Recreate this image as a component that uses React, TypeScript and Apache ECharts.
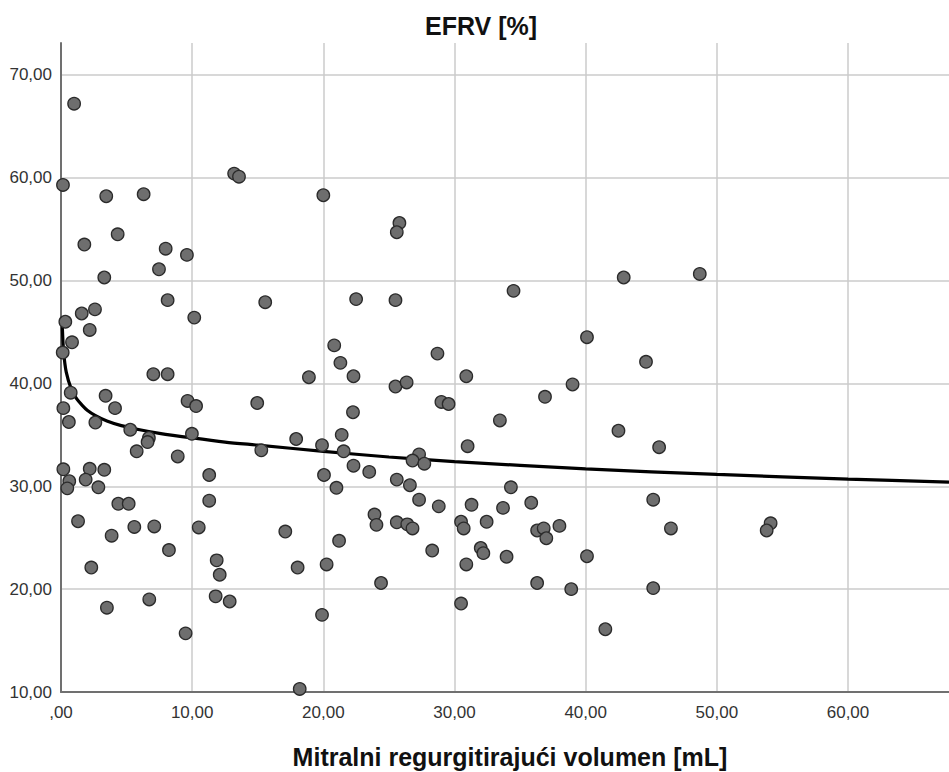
import React, { useEffect, useRef } from "react";
import * as echarts from "echarts";

const chartTitle = "EFRV [%]";
const xAxisTitle = "Mitralni regurgitirajući volumen [mL]";

const xValues = [
  0.15, 1.0, 3.45, 6.3, 13.2, 13.57, 1.78, 4.32, 7.98, 9.6, 20.0, 25.8, 25.6, 7.47, 3.3, 8.13, 15.57, 1.58, 2.59, 10.16,
  0.33, 2.19, 0.84, 0.13, 7.04, 8.13, 18.9, 0.74, 3.4, 9.65, 10.3, 14.96, 0.18, 4.12, 0.6, 2.62, 5.28, 9.98, 6.7, 6.6,
  17.93, 19.9, 5.77, 15.27, 8.9, 0.18, 2.19, 3.3, 11.3, 20.05, 0.63, 0.48, 1.88, 2.85, 4.37, 5.16, 11.3, 1.3, 3.86, 5.59,
  7.11, 10.5, 8.23, 17.1, 2.31, 11.87, 12.1, 18.04, 6.73, 3.5, 11.79, 12.86, 9.5, 18.2, 19.9, 22.5, 25.5, 34.5, 42.9, 20.83,
  21.3, 28.7, 40.1, 22.3, 30.9, 25.5, 26.35, 39.0, 36.9, 29.0, 29.55, 22.26, 33.46, 42.5, 21.4, 31.0, 21.55, 27.3, 26.8, 27.7,
  22.3, 23.5, 21.0, 25.6, 26.6, 34.3, 27.3, 28.8, 31.3, 33.7, 35.85, 23.9, 24.05, 25.6, 26.4, 26.8, 21.2, 20.25, 24.4, 28.3,
  30.5, 30.7, 32.45, 30.9, 32.0, 32.2, 33.97, 30.5, 36.3, 36.8, 37.0, 38.0, 36.3, 38.9, 40.1, 41.5, 48.7, 44.6, 45.6, 45.15,
  46.5, 45.15, 54.1, 53.8,
];

const yValues = [
  59.3, 67.2, 58.2, 58.4, 60.4, 60.1, 53.5, 54.5, 53.1, 52.5, 58.3, 55.6, 54.7, 51.1, 50.3, 48.1, 47.9, 46.8, 47.2, 46.4,
  46.0, 45.2, 44.0, 43.0, 40.9, 40.9, 40.6, 39.1, 38.8, 38.3, 37.8, 38.1, 37.6, 37.6, 36.25, 36.2, 35.5, 35.1, 34.7, 34.3,
  34.6, 34.0, 33.4, 33.5, 32.9, 31.65, 31.7, 31.6, 31.1, 31.1, 30.5, 29.8, 30.65, 29.9, 28.3, 28.3, 28.6, 26.6, 25.2, 26.05,
  26.1, 26.0, 23.8, 25.6, 22.1, 22.8, 21.4, 22.1, 19.0, 18.2, 19.3, 18.8, 15.7, 10.3, 17.5, 48.2, 48.1, 49.0, 50.3, 43.7,
  42.0, 42.9, 44.5, 40.7, 40.7, 39.7, 40.1, 39.9, 38.7, 38.2, 38.0, 37.2, 36.4, 35.4, 35.0, 33.9, 33.4, 33.1, 32.5, 32.2,
  32.0, 31.4, 29.85, 30.65, 30.1, 29.9, 28.7, 28.05, 28.2, 27.9, 28.4, 27.25, 26.25, 26.5, 26.3, 25.9, 24.7, 22.4, 20.6, 23.75,
  26.55, 25.9, 26.55, 22.4, 24.0, 23.5, 23.15, 18.6, 25.7, 25.9, 24.95, 26.15, 20.6, 20.0, 23.2, 16.1, 50.65, 42.1, 33.8, 28.7,
  25.9, 20.1, 26.4, 25.7,
];

// Fit curve
const fitX = [0.1, 0.2, 0.4, 0.8, 1.2, 1.6, 2.0, 2.6, 3.5, 4.6, 6.0, 7.5, 10, 12.5, 15, 20, 25, 30, 40, 50, 60, 67.7];
const fitY = [45.5, 43.1, 41.1, 39.4, 38.5, 37.9, 37.4, 36.9, 36.35, 35.9, 35.5, 35.15, 34.7, 34.3, 34.0, 33.4, 32.85, 32.4, 31.7, 31.15, 30.7, 30.4];

const xMin = 0;
const xMax = 67.7;
const yMin = 10;
const yMax = 73.1;
const tickStep = 10;

const fmt = (v: number) => {
  const r = Math.abs(v % tickStep);
  if (r > 1e-6 && Math.abs(r - tickStep) > 1e-6) return "";
  const s = v.toFixed(2).replace(".", ",");
  return s.startsWith("0,") ? s.slice(1) : s;
};

export default function App() {
  const ref = useRef<HTMLDivElement>(null);
  useEffect(() => {
    if (!ref.current) return;
    const chart = echarts.init(ref.current, null, { renderer: "svg" });
    const font = "'Liberation Sans', Arial, sans-serif";
    chart.setOption({
      animation: false,
      backgroundColor: "#ffffff",
      grid: { left: 61, right: 0, top: 43, bottom: 80, containLabel: false },
      xAxis: {
        type: "value",
        min: xMin,
        max: xMax,
        interval: tickStep,
        axisLine: { show: true, onZero: false, lineStyle: { color: "#707070", width: 2 } },
        axisTick: { show: false },
        axisLabel: {
          formatter: fmt,
          showMaxLabel: false,
          margin: 12,
          fontSize: 17,
          color: "#333333",
          fontFamily: font,
        },
        splitLine: { show: true, showMinLine: false, showMaxLine: false, lineStyle: { color: "#cbcbcb", width: 1.5 } },
      },
      yAxis: {
        type: "value",
        min: yMin,
        max: yMax,
        interval: tickStep,
        axisLine: { show: true, onZero: false, lineStyle: { color: "#707070", width: 2 } },
        axisTick: { show: false },
        axisLabel: {
          formatter: fmt,
          showMaxLabel: false,
          margin: 9,
          fontSize: 17,
          color: "#333333",
          fontFamily: font,
        },
        splitLine: { show: true, showMinLine: false, showMaxLine: false, lineStyle: { color: "#cbcbcb", width: 1.5 } },
      },
      graphic: [
        {
          type: "text",
          style: {
            text: chartTitle,
            x: 481,
            y: 26,
            fontSize: 25,
            fontWeight: "bold",
            fontFamily: font,
            fill: "#111111",
            align: "center",
            verticalAlign: "middle",
          },
        },
        {
          type: "text",
          style: {
            text: xAxisTitle,
            x: 510,
            y: 757,
            fontSize: 25,
            fontWeight: "bold",
            fontFamily: font,
            fill: "#111111",
            align: "center",
            verticalAlign: "middle",
          },
        },
      ],
      series: [
        {
          type: "line",
          data: fitX.map((x, i) => [x, fitY[i]]),
          smooth: 0.3,
          showSymbol: false,
          symbol: "none",
          lineStyle: { color: "#000000", width: 3.2 },
          z: 2,
          silent: true,
        },
        {
          type: "scatter",
          data: xValues.map((x, i) => [x, yValues[i]]),
          symbol: "circle",
          symbolSize: 12.5,
          itemStyle: { color: "#6e6e6e", borderColor: "#2b2b2b", borderWidth: 1.3, opacity: 1 },
          z: 3,
        },
      ],
    });
    return () => chart.dispose();
  }, []);
  return (
    <div
      ref={ref}
      style={{ position: "fixed", left: 0, top: 0, width: 949, height: 772, background: "#fff" }}
    />
  );
}
